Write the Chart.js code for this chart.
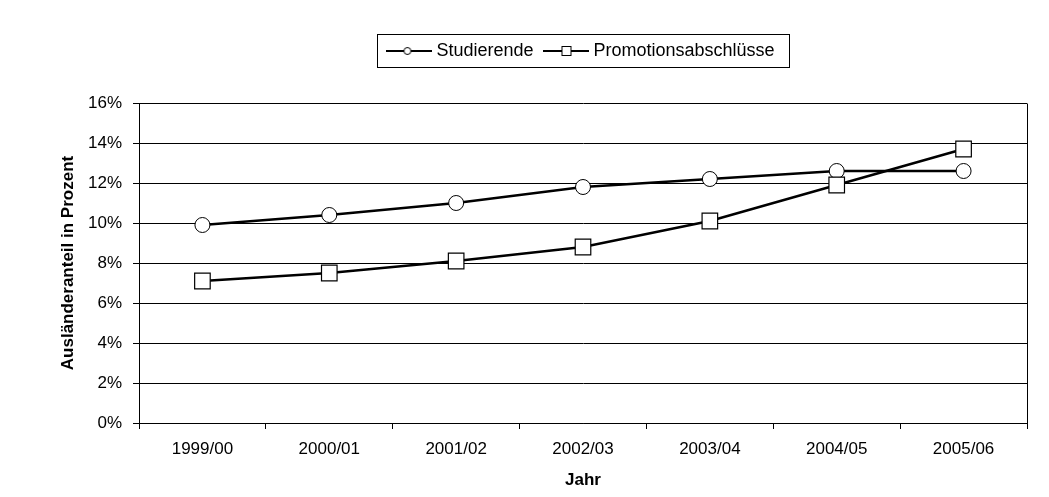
<!DOCTYPE html>
<html lang="de">
<head>
<meta charset="utf-8">
<title>Ausländeranteil</title>
<script src="https://cdn.jsdelivr.net/npm/chart.js@4/dist/chart.umd.min.js"></script>
<style>
  html, body { margin: 0; padding: 0; background: #fff; }
  #wrap { width: 1049px; height: 497px; }
</style>
</head>
<body>
<div id="wrap"><canvas id="chart" width="1049" height="497"></canvas></div>
<script>
// Academic years on the x axis
const years = ['1999/00', '2000/01', '2001/02', '2002/03', '2003/04', '2004/05', '2005/06'];
// Share of foreigners, percent
const studierende = [9.9, 10.4, 11.0, 11.8, 12.2, 12.6, 12.6];
const promotionen = [7.1, 7.5, 8.1, 8.8, 10.1, 11.9, 13.7];
// Y axis ticks, percent
const yTicks = [0, 2, 4, 6, 8, 10, 12, 14, 16];

const FONT = 'Liberation Sans, Arial, sans-serif';

// Small legend sample: a line segment with the series marker in the middle
function legendSample(shape) {
  const c = document.createElement('canvas');
  c.width = 46; c.height = 18;
  const g = c.getContext('2d');
  g.strokeStyle = '#000';
  g.lineWidth = 2;
  g.beginPath(); g.moveTo(0, 9); g.lineTo(46, 9); g.stroke();
  g.fillStyle = '#fff';
  g.lineWidth = 1;
  if (shape === 'circle') {
    g.beginPath(); g.arc(21, 9, 3.5, 0, Math.PI * 2); g.fill(); g.stroke();
  } else {
    g.fillRect(18.5, 4.5, 9, 9); g.strokeRect(18.5, 4.5, 9, 9);
  }
  return c;
}
const sampleCircle = legendSample('circle');
const sampleSquare = legendSample('rect');

// Frame around the plot area and around the legend
const frames = {
  id: 'frames',
  afterDraw(chart) {
    const ctx = chart.ctx;
    const a = chart.chartArea;
    ctx.save();
    ctx.strokeStyle = '#000';
    ctx.lineWidth = 1;
    ctx.beginPath();
    ctx.moveTo(Math.round(a.right) + 0.5, Math.round(a.top) + 0.5);
    ctx.lineTo(Math.round(a.right) + 0.5, Math.round(a.bottom) + 0.5);
    ctx.stroke();
    const hb = chart.legend.legendHitBoxes;
    if (hb && hb.length) {
      const first = hb[0], last = hb[hb.length - 1];
      const x0 = Math.round(first.left - 14) + 0.5;
      const x1 = Math.round(last.left + last.width + 14) + 0.5;
      const cy = first.top + first.height / 2;
      const y0 = Math.round(cy - 17) + 0.5;
      const y1 = Math.round(cy + 16) + 0.5;
      ctx.strokeRect(x0, y0, x1 - x0, y1 - y0);
    }
    ctx.restore();
  }
};

new Chart(document.getElementById('chart'), {
  type: 'line',
  data: {
    labels: years,
    datasets: [
      {
        label: 'Studierende',
        data: studierende,
        borderColor: '#000',
        borderWidth: 2.5,
        backgroundColor: '#fff',
        pointStyle: 'circle',
        pointRadius: 7.5,
        pointBorderWidth: 1,
        pointBackgroundColor: '#fff',
        pointBorderColor: '#000',
        tension: 0,
        order: 1
      },
      {
        label: 'Promotionsabschlüsse',
        data: promotionen,
        borderColor: '#000',
        borderWidth: 2.5,
        backgroundColor: '#fff',
        pointStyle: 'rect',
        pointRadius: 11,
        pointBorderWidth: 1.2,
        pointBackgroundColor: '#fff',
        pointBorderColor: '#000',
        tension: 0,
        order: 0
      }
    ]
  },
  options: {
    responsive: false,
    animation: false,
    devicePixelRatio: 1,
    layout: { padding: { top: 27, right: 22, bottom: 0, left: 0 } },
    plugins: {
      tooltip: { enabled: false },
      legend: {
        position: 'top',
        fullSize: false,
        labels: {
          usePointStyle: true,
          pointStyleWidth: 36,
          padding: 15,
          color: '#000',
          font: { family: FONT, size: 18 },
          sort: (a, b) => a.datasetIndex - b.datasetIndex,
          generateLabels(chart) {
            return chart.data.datasets.map((ds, i) => ({
              text: ds.label,
              datasetIndex: i,
              pointStyle: i === 0 ? sampleCircle : sampleSquare,
              fillStyle: '#fff',
              strokeStyle: '#000',
              lineWidth: 0,
              fontColor: '#000',
              hidden: false
            }));
          }
        }
      },
      subtitle: {
        display: true,
        text: '',
        position: 'top',
        weight: 100,
        font: { size: 10, lineHeight: 1 },
        padding: { top: 0, bottom: 23 }
      }
    },
    scales: {
      x: {
        offset: true,
        grid: {
          offset: true,
          drawOnChartArea: false,
          drawTicks: true,
          tickLength: 6,
          color: '#000',
          lineWidth: 1
        },
        border: { display: true, color: '#000', width: 1 },
        ticks: {
          color: '#000',
          padding: 10,
          maxRotation: 0,
          font: { family: FONT, size: 17 }
        },
        title: {
          display: true,
          text: 'Jahr',
          color: '#000',
          font: { family: FONT, size: 17, weight: 'bold' },
          padding: { top: 0, bottom: 6 }
        },
        afterFit(scale) { scale.height = 74; }
      },
      y: {
        min: yTicks[0],
        max: yTicks[yTicks.length - 1],
        afterBuildTicks(scale) { scale.ticks = yTicks.map(v => ({ value: v })); },
        grid: {
          color: '#000',
          lineWidth: 1,
          drawTicks: true,
          tickLength: 6
        },
        border: { display: true, color: '#000', width: 1 },
        ticks: {
          color: '#000',
          padding: 11,
          font: { family: FONT, size: 17 },
          callback: v => v + '%'
        },
        title: {
          display: true,
          text: 'Ausländeranteil in Prozent',
          color: '#000',
          font: { family: FONT, size: 17, weight: 'bold' },
          padding: { top: 58, bottom: 0 }
        },
        afterFit(scale) { scale.width = 139; }
      }
    }
  },
  plugins: [frames]
});
</script>
</body>
</html>
